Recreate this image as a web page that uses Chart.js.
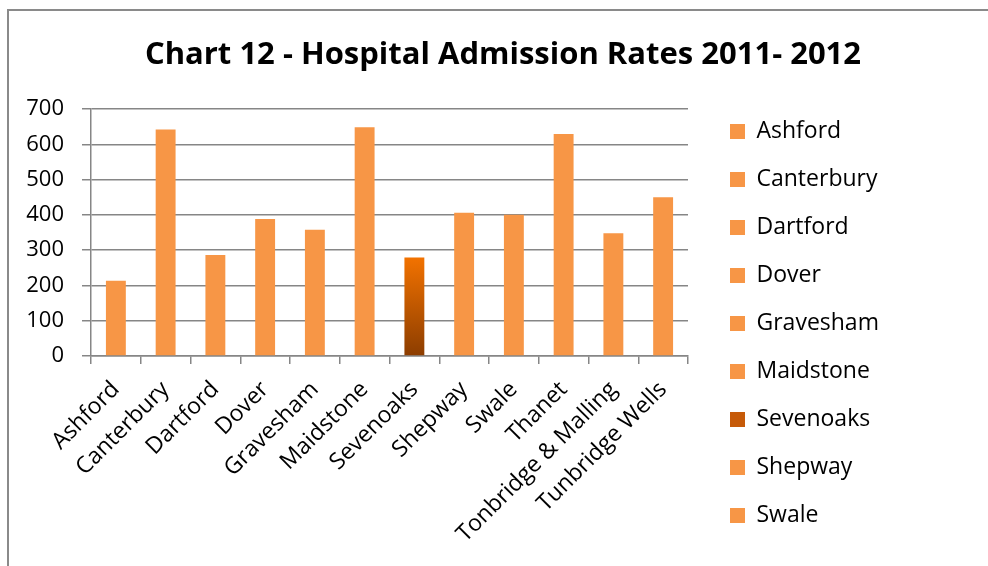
<!DOCTYPE html>
<html>
<head>
<meta charset="utf-8">
<script src="https://cdn.jsdelivr.net/npm/chart.js@4.4.1/dist/chart.umd.min.js"></script>
<style>
  html, body { margin: 0; padding: 0; background: #fff; }
  #wrap { position: relative; width: 988px; height: 566px; overflow: hidden; }
  #frame { position: absolute; left: 7px; top: 9px; width: 1000px; height: 600px;
           border-left: 2px solid #8a8a8a; border-top: 2px solid #8a8a8a; }
  #chart { position: absolute; left: 0; top: 0; }
</style>
</head>
<body>
<div id="wrap">
  <div id="frame"></div>
  <canvas id="chart" width="988" height="566"></canvas>
</div>
<script>
const districts = ["Ashford", "Canterbury", "Dartford", "Dover", "Gravesham", "Maidstone",
  "Sevenoaks", "Shepway", "Swale", "Thanet", "Tonbridge & Malling", "Tunbridge Wells"];
const admissionRates = [213, 642, 286, 388, 358, 648, 279, 406, 400, 629, 348, 450];
const yMax = 700;
const yStep = 100;
const highlighted = "Sevenoaks";
const legendShown = 9; // the original legend is cut off after Swale

const orange = "#F79646";
const axisGrey = "#868686";
const font = "'Open Sans', Lato, sans-serif";

function barFill(c) {
  if (districts[c.dataIndex] !== highlighted) return orange;
  const chart = c.chart;
  const area = chart.chartArea;
  if (!area) return "#C45A06";
  const top = chart.scales.y.getPixelForValue(c.raw);
  const g = chart.ctx.createLinearGradient(0, top, 0, area.bottom);
  g.addColorStop(0, "#F27200");
  g.addColorStop(1, "#8C3D00");
  return g;
}

// invisible spacer axes on the right, used only to place the legend
const innerGap = 17;
const rightBlock = 300;
const gap = (fit, weight) => ({
  position: "right",
  display: false,
  weight: weight,
  afterFit: fit
});

new Chart(document.getElementById("chart"), {
  type: "bar",
  data: {
    labels: districts,
    datasets: [{
      label: "Admission rate",
      data: admissionRates,
      backgroundColor: barFill,
      barPercentage: 0.4,
      categoryPercentage: 1
    }]
  },
  options: {
    responsive: false,
    animation: false,
    layout: { padding: { left: 18, right: 0, top: 0, bottom: 14 } },
    plugins: {
      title: {
        display: true,
        text: "Chart 12 - Hospital Admission Rates 2011- 2012",
        color: "#000",
        font: { family: font, size: 31, weight: "bold" },
        padding: { top: 37, bottom: 34.8 }
      },
      legend: {
        position: "right",
        align: "end",
        labels: {
          color: "#000",
          font: { family: font, size: 23 },
          boxWidth: 15,
          boxHeight: 15,
          padding: 25,
          generateLabels: () => districts.slice(0, legendShown).map((name, i) => ({
            text: name,
            fillStyle: name === highlighted ? "#C65A08" : orange,
            strokeStyle: "rgba(0,0,0,0)",
            lineWidth: 0,
            hidden: false,
            index: i
          }))
        }
      },
      tooltip: { enabled: false }
    },
    scales: {
      x: {
        grid: { display: true, drawOnChartArea: false, tickLength: 8, color: axisGrey, lineWidth: 1.5 },
        border: { color: axisGrey, width: 1.5 },
        ticks: {
          color: "#000",
          font: { family: font, size: 23 },
          minRotation: 45,
          maxRotation: 45,
          autoSkip: false,
          padding: 12
        },
        afterFit: (s) => { s.height = 196; }
      },
      y: {
        min: 0,
        max: yMax,
        ticks: { stepSize: yStep, color: "#000", font: { family: font, size: 22 }, padding: 18 },
        grid: { color: axisGrey, lineWidth: 1.5, tickLength: 9 },
        border: { color: axisGrey, width: 1.5 },
        afterFit: (s) => { s.width = 73; }
      },
      gapInner: gap((s) => { s.width = innerGap; }, 0),
      gapOuter: gap((s) => { s.width = Math.max(0, rightBlock - innerGap - s.chart.legend.width); }, 2000)
    }
  }
});
</script>
</body>
</html>
